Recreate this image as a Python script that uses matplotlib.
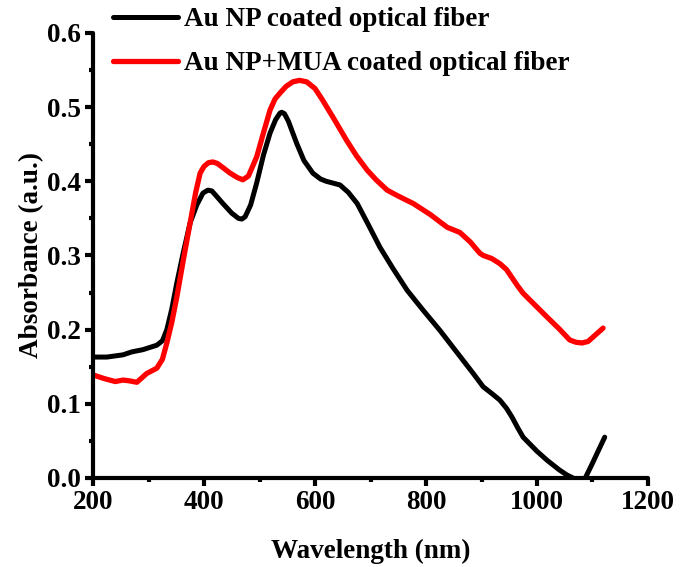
import matplotlib
matplotlib.use("Agg")
import matplotlib.pyplot as plt
from matplotlib.ticker import MultipleLocator, FormatStrFormatter

# values
wl_np = [200, 225, 254, 270, 290, 315, 325, 333, 342, 351, 363, 375, 387, 398,
         407, 414, 420, 434, 450, 462, 468, 474, 484, 495, 507, 519, 529, 537,
         540, 545, 552, 567, 580, 596, 610, 620, 645, 660, 676, 695, 717, 740,
         766, 795, 825, 855, 885, 903, 920, 933, 945, 955, 965, 975, 1000,
         1018, 1040, 1054, 1065, 1076, 1087, 1100, 1110, 1122]
abs_np = [0.163, 0.163, 0.166, 0.170, 0.173, 0.179, 0.185, 0.200, 0.228, 0.263,
          0.305, 0.344, 0.368, 0.384, 0.388, 0.387, 0.382, 0.370, 0.357, 0.350,
          0.349, 0.352, 0.368, 0.398, 0.435, 0.465, 0.483, 0.492, 0.493, 0.491,
          0.481, 0.451, 0.428, 0.411, 0.403, 0.400, 0.395, 0.385, 0.370, 0.343,
          0.311, 0.283, 0.253, 0.226, 0.199, 0.170, 0.141, 0.123, 0.113, 0.105,
          0.094, 0.082, 0.068, 0.055, 0.036, 0.024, 0.011, 0.004, 0.0, -0.008,
          0.0, 0.020, 0.036, 0.055]

wl_mua = [200, 220, 240, 254, 265, 279, 297, 315, 325, 333, 342, 351, 363, 375,
          385, 393, 400, 408, 416, 424, 433, 447, 460, 470, 480, 495, 507, 519,
          528, 537, 548, 560, 572, 585, 600, 614, 635, 657, 675, 694, 710, 730,
          750, 777, 808, 838, 861, 880, 897, 903, 918, 933, 945, 955, 965, 975,
          1018, 1040, 1059, 1070, 1081, 1092, 1101, 1110, 1119]
abs_mua = [0.139, 0.134, 0.130, 0.132, 0.131, 0.129, 0.141, 0.148, 0.160, 0.182,
           0.210, 0.244, 0.295, 0.344, 0.385, 0.411, 0.420, 0.425, 0.426, 0.424,
           0.419, 0.411, 0.405, 0.402, 0.407, 0.433, 0.465, 0.496, 0.511, 0.519,
           0.528, 0.534, 0.536, 0.534, 0.525, 0.509, 0.483, 0.455, 0.434, 0.415,
           0.402, 0.388, 0.380, 0.370, 0.355, 0.338, 0.331, 0.318, 0.303, 0.300,
           0.296, 0.289, 0.281, 0.270, 0.259, 0.249, 0.217, 0.201, 0.186, 0.183,
           0.182, 0.184, 0.190, 0.196, 0.202]

plt.rcParams['font.family'] = ['Liberation Serif', 'DejaVu Serif']
plt.rcParams['font.weight'] = 'bold'

fig = plt.figure(figsize=(6.86, 5.67), dpi=100)
ax = fig.add_axes([0.1356, 0.157, 0.809, 0.785])

l1, = ax.plot(wl_np, abs_np, color='black', lw=3.6, solid_capstyle='round',
              solid_joinstyle='round', label='Au NP coated optical fiber')
l2, = ax.plot(wl_mua, abs_mua, color='#ff0000', lw=3.8, solid_capstyle='round',
              solid_joinstyle='round', label='Au NP+MUA coated optical fiber')

ax.set_xlim(200, 1200)
ax.set_ylim(0, 0.6)
ax.xaxis.set_major_locator(MultipleLocator(200))
ax.xaxis.set_minor_locator(MultipleLocator(100))
ax.yaxis.set_major_locator(MultipleLocator(0.1))
ax.yaxis.set_minor_locator(MultipleLocator(0.05))
ax.yaxis.set_major_formatter(FormatStrFormatter('%.1f'))

for s in ['top', 'right']:
    ax.spines[s].set_visible(False)
for s in ['left', 'bottom']:
    ax.spines[s].set_linewidth(3)
    ax.spines[s].set_capstyle('round')
ax.tick_params(which='major', direction='out', length=6, width=3, labelsize=19.5, pad=3)
ax.tick_params(which='minor', direction='out', length=3, width=3)

ax.set_xlabel('Wavelength (nm)', fontsize=19.5, fontweight='bold', labelpad=17)
ax.set_ylabel('Absorbance (a.u.)', fontsize=19.5, fontweight='bold', labelpad=2)

fig.legend(handles=[l1, l2], loc='upper left', bbox_to_anchor=(0.1485, 1.0065),
           frameon=False, fontsize=19.5, handlelength=2.4, handletextpad=0.25,
           labelspacing=0.7, borderaxespad=0)

fig.savefig('out.png', dpi=100)
